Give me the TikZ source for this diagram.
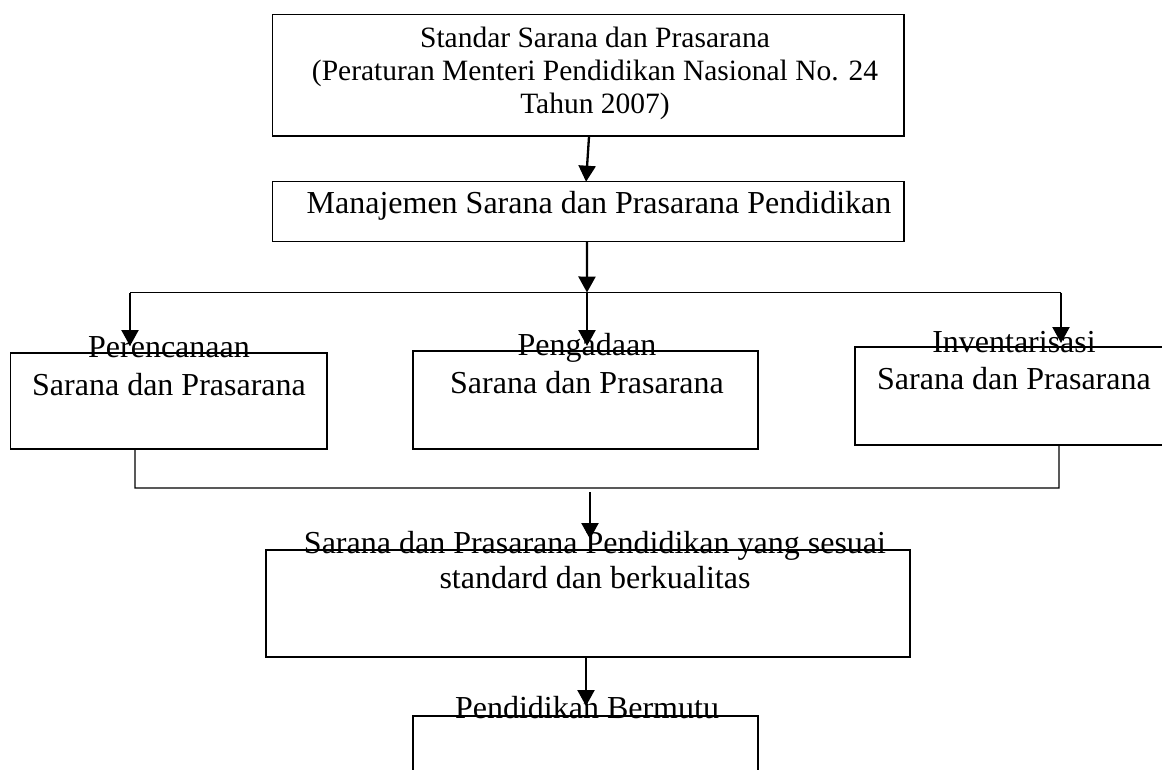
\documentclass[tikz,border=0pt]{standalone}
\usepackage{fontspec}
\setmainfont{Liberation Serif}
\usetikzlibrary{arrows.meta,calc}
\begin{document}
\begin{tikzpicture}[x=1pt,y=-1pt,
  box/.style={draw=black, line width=1.5pt, inner sep=0pt, outer sep=0pt, anchor=north west},
  lbl/.style={font=\fontsize{32}{36}\selectfont, inner sep=0pt, outer sep=0pt, anchor=base, align=center},
  arr/.style={line width=2.3pt, -{Triangle[width=17pt,length=16pt]}},
  conn/.style={line width=1.4pt}]
\useasboundingbox (0,0) rectangle (1162,769);
\clip (0,0) rectangle (1162,769);
% boxes
\node[box, minimum width=631.3pt, minimum height=121.3pt] (b1) at (272.7,14.7) {};
\node[box, minimum width=631.3pt, minimum height=60pt] (b2) at (272.7,181.7) {};
\node[box, minimum width=316.3pt, minimum height=96pt] (p1) at (10.7,353) {};
\node[box, minimum width=345pt, minimum height=98pt] (p2) at (413,351) {};
\node[box, minimum width=345pt, minimum height=98pt] (p3) at (855,347) {};
\node[box, minimum width=644pt, minimum height=107pt] (lb) at (266,550) {};
\node[box, minimum width=345pt, minimum height=100pt] (bb) at (413,716) {};
% texts (anchor=base sits on the last line's baseline)
\node[lbl, font=\fontsize{29.5}{33}\selectfont] (t1) at (595,113) {Standar Sarana dan Prasarana\\(Peraturan Menteri Pendidikan Nasional No. 24\\Tahun 2007)};
\node[lbl] (t2) at (599,213) {Manajemen Sarana dan Prasarana Pendidikan};
\node[lbl, font=\fontsize{32}{38}\selectfont] (tp1) at (169,395) {Perencanaan\\Sarana dan Prasarana};
\node[lbl, font=\fontsize{32}{38}\selectfont] (tp2) at (587,393) {Pengadaan\\Sarana dan Prasarana};
\node[lbl, font=\fontsize{32}{37}\selectfont] (tp3) at (1014,389) {Inventarisasi\\Sarana dan Prasarana};
\node[lbl, font=\fontsize{32}{35}\selectfont] (tlb) at (595,588) {Sarana dan Prasarana Pendidikan yang sesuai\\standard dan berkualitas};
\node[lbl] (tbb) at (587,718) {Pendidikan Bermutu};
% junction coordinates
\coordinate (j0) at (587,292.5);
\coordinate (jl) at (130,292.5);
\coordinate (jr) at (1061,292.5);
\coordinate (e1) at (130,346);
\coordinate (e2) at (587,346);
\coordinate (e3) at (1061,343);
\coordinate (kl) at (135,488);
\coordinate (kr) at (1059,488);
\coordinate (m1) at (590,492);
\coordinate (m2) at (590,539);
\coordinate (m3) at (586,706);
% connectors
\draw[arr] ([xshift=0.7pt]b1.south) -- ([xshift=-2.3pt]b2.north);
\draw[arr] ([xshift=-1.3pt]b2.south) -- (j0);
\draw[conn] (jl) -- (jr);
\draw[arr] (jl) -- (e1);
\draw[arr] (j0) -- (e2);
\draw[arr] (jr) -- (e3);
\draw[conn] ([xshift=-33.85pt]p1.south) -- (kl) -- (kr) -- ([xshift=31.5pt]p3.south);
\draw[arr] (m1) -- (m2);
\draw[arr] ([xshift=-2pt]lb.south) -- (m3);
\end{tikzpicture}
\end{document}
